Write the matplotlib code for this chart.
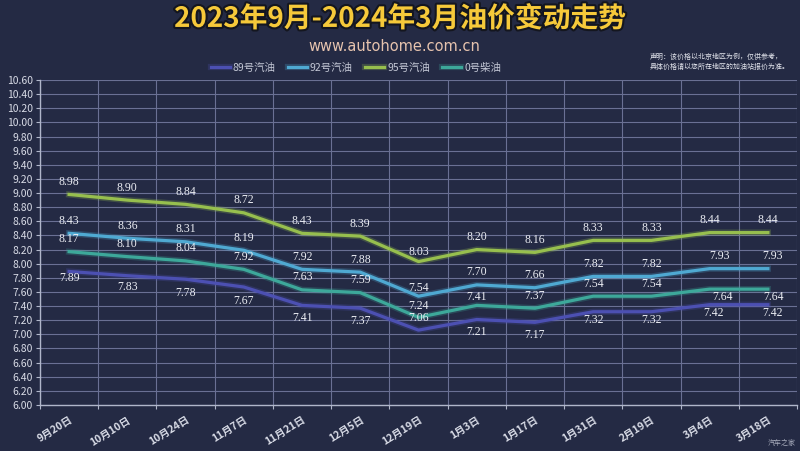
import matplotlib as mpl

mpl.use("Agg")
import matplotlib.pyplot as plt
import matplotlib.patheffects as pe
import numpy as np

plt.rcParams["font.family"] = ["Noto Sans CJK SC", "DejaVu Sans"]

# data
DATES = ["9月20日", "10月10日", "10月24日", "11月7日", "11月21日", "12月5日", "12月19日",
         "1月3日", "1月17日", "1月31日", "2月19日", "3月4日", "3月18日"]
GAS_89 = [7.89, 7.83, 7.78, 7.67, 7.41, 7.37, 7.06, 7.21, 7.17, 7.32, 7.32, 7.42, 7.42]
GAS_92 = [8.43, 8.36, 8.31, 8.19, 7.92, 7.88, 7.54, 7.70, 7.66, 7.82, 7.82, 7.93, 7.93]
GAS_95 = [8.98, 8.90, 8.84, 8.72, 8.43, 8.39, 8.03, 8.20, 8.16, 8.33, 8.33, 8.44, 8.44]
DIESEL_0 = [8.17, 8.10, 8.04, 7.92, 7.63, 7.59, 7.24, 7.41, 7.37, 7.54, 7.54, 7.64, 7.64]
NAMES = ["89号汽油", "92号汽油", "95号汽油", "0号柴油"]

BG = "#242a44"
COLORS = ["#4c50b2", "#4fa9d2", "#97bf4e", "#3da89a"]
GRID = "#6a7094"
TXT = "#d8dbe6"

# label offsets in points (vertical), small tweaks where the reference nudges labels
OFF_89 = [-5, -8, -10, -10, -9, -9, 9, -9, -9, -6, -6, -6, -6]
OFF_92 = [9, 9, 9, 9, 9, 9, 6, 9, 9, 9, 9, 9, 9]
OFF_95 = [9, 9, 9, 9, 9, 9, 7, 9, 9, 9, 9, 9, 9]
OFF_0 = [9, 9, 9, 9, 9, 9, 8, 6, 9, 9, 9, -6, -6]
DX_89 = [0, 0, 0, 0, 0, 0, 0, 0, 0, 0, 0, 3, 3]
DX_92 = [0, 0, 0, 0, 0, 0, 0, 0, 0, 0, 0, 7, 3]
DX_0 = [0, 0, 0, 0, 0, 0, 0, 0, 0, 0, 0, 9, 4]

fig = plt.figure(figsize=(8, 4.51), dpi=100, facecolor=BG)
ax = fig.add_axes([40 / 800, 46 / 451, 757 / 800, 325 / 451])
ax.set_facecolor(BG)

x = np.arange(len(DATES))
series = [GAS_89, GAS_92, GAS_95, DIESEL_0]
offsets = [OFF_89, OFF_92, OFF_95, OFF_0]
dxs = [DX_89, DX_92, [0] * len(DATES), DX_0]

lines = []
for vals, col, name in zip(series, COLORS, NAMES):
    (ln,) = ax.plot(x, vals, color=col, lw=2.3, solid_joinstyle="round", label=name, zorder=3,
                    path_effects=[pe.Stroke(linewidth=4.5, foreground=col, alpha=0.25), pe.Normal()])
    lines.append(ln)

for vals, offs, dx in zip(series, offsets, dxs):
    for xi, v, o, d in zip(x, vals, offs, dx):
        ax.annotate(f"{v:.2f}", (xi, v), xytext=(d, o), textcoords="offset points",
                    ha="center", va="center", fontsize=8.5, color="#eceef4",
                    family="Liberation Serif", zorder=5)

ax.set_xlim(-0.5, len(DATES) - 0.5)
ax.set_ylim(6.0, 10.6)
ax.set_yticks(np.arange(6.0, 10.61, 0.2))
ax.yaxis.set_major_formatter(mpl.ticker.FormatStrFormatter("%.2f"))
ax.set_xticks(x)
ax.set_xticklabels(DATES, rotation=32, ha="right", va="top", rotation_mode="anchor",
                   fontsize=7.5, color=TXT, fontweight="bold")
ax.set_xticks(np.arange(-0.5, len(DATES), 1.0), minor=True)
ax.tick_params(axis="x", which="major", length=0, pad=7)
ax.tick_params(axis="x", which="minor", length=3, color="#b0b6ca", width=0.8)
ax.tick_params(axis="y", length=3, color="#b0b6ca", width=0.8, labelsize=7.5, labelcolor=TXT, pad=2)

ax.grid(axis="y", which="major", color=GRID, lw=0.8)
ax.grid(axis="x", which="minor", color=GRID, lw=0.8)
for side in ["top", "right"]:
    ax.spines[side].set_visible(False)
for side in ["left", "bottom"]:
    ax.spines[side].set_color("#b0b6ca")
    ax.spines[side].set_linewidth(1.0)

fig.text(0.5, 0.958, "2023年9月-2024年3月油价变动走势", ha="center", va="center",
         fontsize=20, fontweight="bold", color="#f6c93a",
         path_effects=[pe.withStroke(linewidth=3, foreground="#14161f")])
fig.text(0.493, 0.898, "www.autohome.com.cn", ha="center", va="center",
         fontsize=10.5, color="#e6c3ae", family="DejaVu Sans")

leg = fig.legend(handles=lines, loc="center", bbox_to_anchor=(0.445, 0.849), ncol=4,
                 frameon=False, fontsize=7.5, handlelength=1.8, handletextpad=0.3,
                 columnspacing=1.2)
for t in leg.get_texts():
    t.set_color("#c4c8d6")

fig.text(0.812, 0.862, "声明：该价格以北京地区为例，仅供参考，\n具体价格请以您所在地区的加油站报价为准。",
         ha="left", va="center", fontsize=5, color="#e4e6ee", linespacing=1.3)
fig.text(0.995, 0.018, "汽车之家", ha="right", va="center", fontsize=5, color="#a8acbc")

fig.savefig("out.png", dpi=100, facecolor=BG)
